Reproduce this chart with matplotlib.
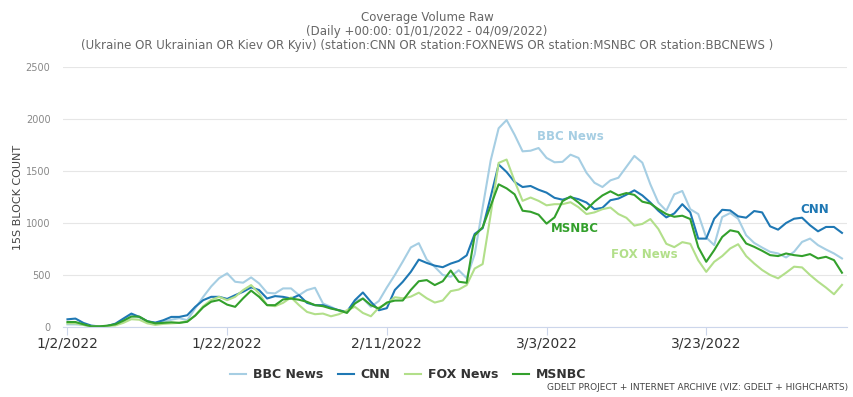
import matplotlib
matplotlib.use("Agg")
import matplotlib.pyplot as plt
import pandas as pd

plt.rcParams['font.family'] = ['Liberation Sans Narrow', 'DejaVu Sans']

start_date = "2022-01-02"
n_days = 98

bbc = [25, 25, 20, 5, 5, 10, 25, 70, 115, 95, 55, 40, 50, 70, 85, 65, 180, 290, 390, 470,
       516, 435, 426, 477, 419, 329, 323, 371, 371, 306, 355, 377, 226, 194, 155, 152, 248, 274, 194, 250,
       380, 500, 630, 765, 806, 648, 578, 500, 483, 546, 470, 700, 1150, 1600, 1911, 1990, 1848, 1689, 1695, 1721,
       1626, 1584, 1588, 1657, 1626, 1483, 1387, 1346, 1410, 1435, 1540, 1645, 1580, 1372, 1197, 1118, 1276, 1308, 1133, 1086,
       860, 787, 1057, 1096, 1041, 882, 809, 764, 723, 707, 669, 723, 818, 850, 787, 745, 707, 659]
cnn = [74, 81, 39, 13, 6, 10, 32, 81, 129, 97, 55, 42, 65, 97, 97, 113, 194, 258, 290, 290,
       270, 306, 339, 381, 355, 274, 297, 290, 274, 306, 232, 210, 210, 184, 161, 145, 258, 332, 242, 161,
       181, 356, 435, 530, 648, 616, 590, 575, 610, 635, 689, 895, 950, 1250, 1562, 1490, 1395, 1346, 1356, 1320,
       1292, 1242, 1224, 1248, 1229, 1197, 1133, 1146, 1219, 1235, 1272, 1314, 1265, 1197, 1118, 1054, 1092, 1181, 1102, 850,
       850, 1041, 1127, 1121, 1064, 1051, 1115, 1102, 968, 936, 1000, 1041, 1051, 978, 920, 962, 962, 905]
fox = [35, 35, 20, 5, 5, 8, 15, 40, 75, 70, 35, 20, 30, 35, 40, 55, 110, 200, 260, 290,
       258, 290, 355, 403, 323, 210, 200, 232, 284, 210, 145, 123, 129, 103, 123, 161, 194, 135, 103, 187,
       226, 286, 276, 292, 330, 276, 235, 255, 345, 360, 403, 562, 605, 1080, 1578, 1610, 1403, 1213, 1245, 1213,
       1170, 1181, 1181, 1200, 1152, 1086, 1102, 1133, 1149, 1086, 1050, 975, 991, 1038, 943, 800, 768, 816, 800, 641,
       530, 627, 682, 755, 796, 682, 611, 548, 500, 468, 522, 580, 573, 500, 436, 379, 315, 405]
msnbc = [48, 48, 26, 6, 6, 13, 26, 60, 100, 100, 55, 35, 40, 45, 40, 50, 110, 190, 243, 260,
         215, 194, 276, 350, 290, 210, 210, 265, 274, 262, 242, 210, 200, 177, 161, 135, 226, 274, 210, 177,
         235, 254, 255, 356, 440, 451, 403, 440, 543, 435, 425, 879, 959, 1165, 1372, 1333, 1276, 1118, 1108, 1080,
         994, 1054, 1210, 1255, 1197, 1128, 1205, 1265, 1305, 1265, 1288, 1270, 1205, 1187, 1133, 1086, 1060, 1070, 1038, 768,
         627, 739, 866, 930, 914, 803, 771, 733, 691, 682, 707, 691, 682, 701, 659, 675, 643, 522]

series_names = ["BBC News", "CNN", "FOX News", "MSNBC"]
series_values = [bbc, cnn, fox, msnbc]
colors = ["#a6cee3", "#1f78b4", "#b2df8a", "#33a02c"]

tick_dates = ["2022-01-02", "2022-01-22", "2022-02-11", "2022-03-03", "2022-03-23"]
tick_labels = ["1/2/2022", "1/22/2022", "2/11/2022", "3/3/2022", "3/23/2022"]
y_ticks = [0, 500, 1000, 1500, 2000, 2500]

dates = pd.date_range(start_date, periods=n_days)

W, H = 854, 397
fig = plt.figure(figsize=(W / 100, H / 100), dpi=100)
ax = fig.add_axes([63 / W, 1 - 327 / H, 784 / W, 260 / H])

for name, vals, c in zip(series_names, series_values, colors):
    ax.plot(dates, vals, color=c, lw=1.5, label=name, solid_joinstyle='round')

x0 = dates[0] - pd.Timedelta(hours=0.56 * 24)
x1 = dates[-1] + pd.Timedelta(hours=0.63 * 24)
ax.set_xlim(x0, x1)
ax.set_ylim(0, 2500)
ax.set_yticks(y_ticks)
ax.set_yticklabels([str(v) for v in y_ticks], color="#888888", fontsize=7)
ax.grid(axis='y', color="#e6e6e6", lw=0.8)
ax.set_axisbelow(True)
for s in ["left", "right", "top"]:
    ax.spines[s].set_visible(False)
ax.spines["bottom"].set_color("#ccd6eb")
ax.tick_params(axis='y', length=0, pad=9)
ax.set_xticks(pd.to_datetime(tick_dates))
ax.set_xticklabels(tick_labels, fontsize=10, color="#333333")
ax.tick_params(axis='x', length=6, color="#ccd6eb", pad=1)

fig.text(18 / W, 1 - 197 / H, "15S BLOCK COUNT", rotation=90, ha="center", va="center",
         fontsize=8, color="#444444")

title_kw = dict(ha="center", va="center", color="#666666", fontsize=8.5)
fig.text(427 / W, 1 - 17 / H, "Coverage Volume Raw", **title_kw)
fig.text(427 / W, 1 - 31 / H, "(Daily +00:00: 01/01/2022 - 04/09/2022)", **title_kw)
fig.text(427 / W, 1 - 45 / H,
         "(Ukraine OR Ukrainian OR Kiev OR Kyiv) (station:CNN OR station:FOXNEWS OR station:MSNBC OR station:BBCNEWS )",
         **title_kw)

# in-chart series labels
lab_kw = dict(ha="center", va="center", fontsize=8.5, fontweight="bold")
fig.text(570 / W, 1 - 137 / H, "BBC News", color="#a6cee3", **lab_kw)
fig.text(575 / W, 1 - 228 / H, "MSNBC", color="#33a02c", **lab_kw)
fig.text(644 / W, 1 - 255 / H, "FOX News", color="#b2df8a", **lab_kw)
fig.text(815 / W, 1 - 209 / H, "CNN", color="#1f78b4", **lab_kw)

leg = fig.legend(loc="center", bbox_to_anchor=(408 / W, 1 - 375 / H), ncol=4, frameon=False,
                 fontsize=9, handlelength=1.3, columnspacing=1.2, handletextpad=0.5)
for t in leg.get_texts():
    t.set_fontweight("bold")
    t.set_color("#333333")

fig.text(848 / W, 1 - 388 / H, "GDELT PROJECT + INTERNET ARCHIVE (VIZ: GDELT + HIGHCHARTS)",
         ha="right", va="center", fontsize=6.5, color="#444444")

fig.savefig("out.png", dpi=100)
